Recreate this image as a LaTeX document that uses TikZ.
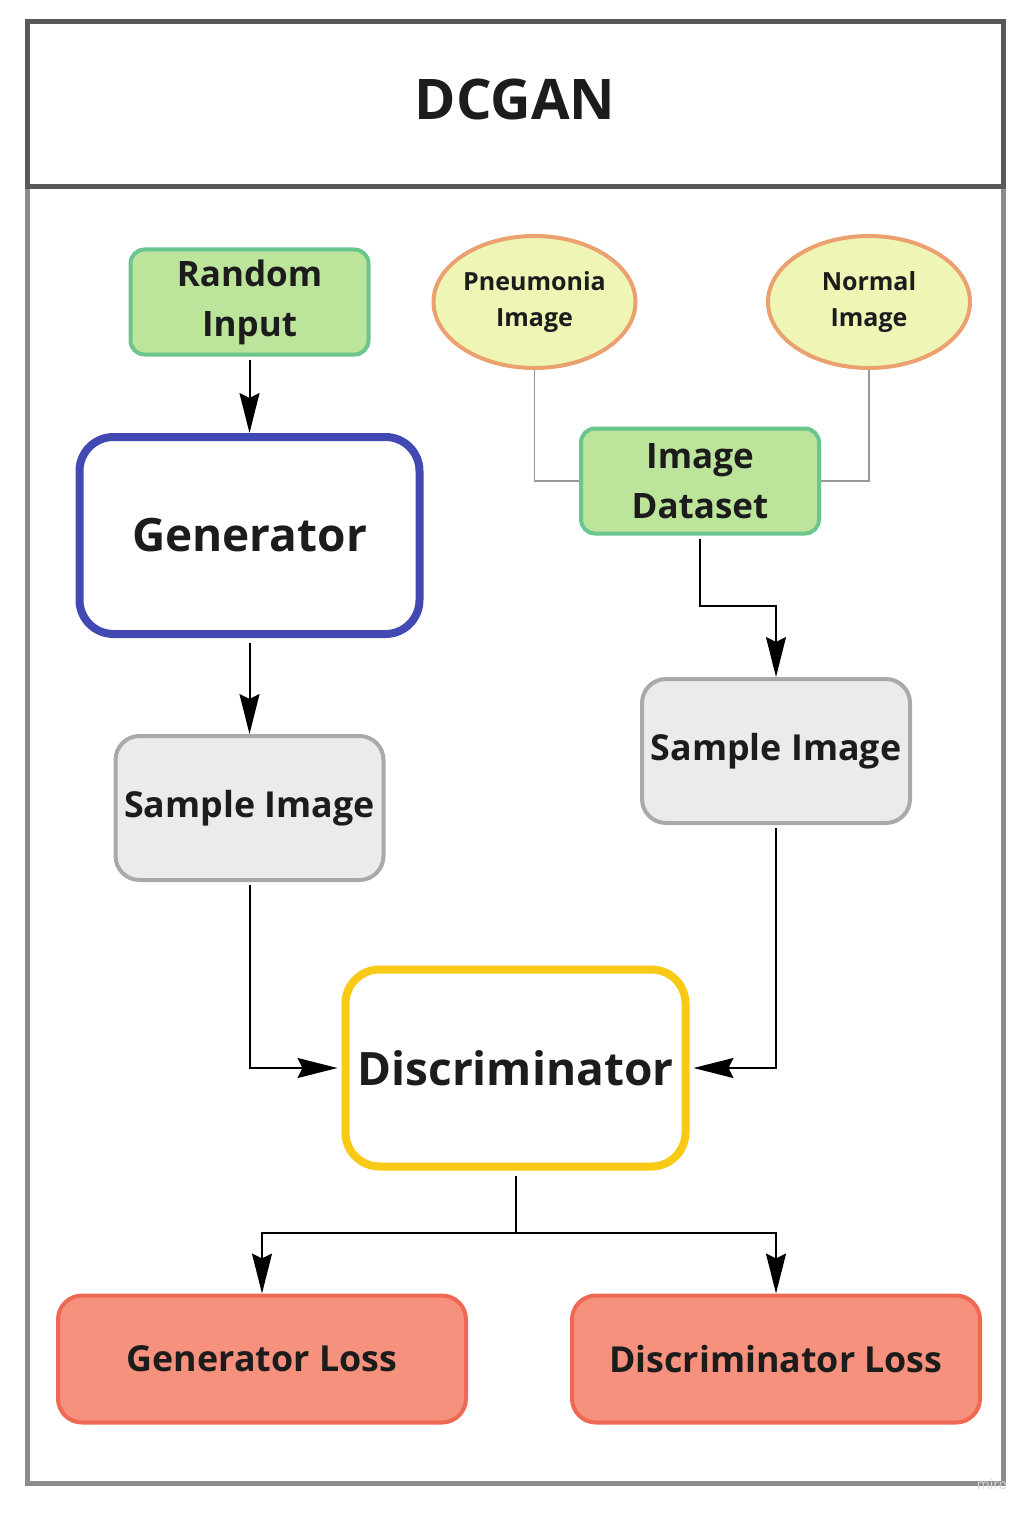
\documentclass[tikz,border=0pt]{standalone}
\usepackage{fontspec}
\setmainfont{Open Sans}
\usetikzlibrary{arrows.meta,shapes.geometric,calc}
\definecolor{gfill}{HTML}{BDE49B}
\definecolor{gline}{HTML}{6AC58E}
\definecolor{bline}{HTML}{4349B3}
\definecolor{yline}{HTML}{F8C915}
\definecolor{sfill}{HTML}{EBEBEB}
\definecolor{sline}{HTML}{A9A9A9}
\definecolor{rfill}{HTML}{F5917C}
\definecolor{rline}{HTML}{EE6853}
\definecolor{efill}{HTML}{EEF5B5}
\definecolor{eline}{HTML}{EBA16F}
\definecolor{tline}{HTML}{595959}
\definecolor{oline}{HTML}{8C8C8C}
\definecolor{txt}{HTML}{1C1C1C}
\tikzset{
  box/.style={rectangle, rounded corners=#1, inner sep=0pt, align=center, text=txt, font=\bfseries},
  greenbox/.style={box=14pt, draw=gline, fill=gfill, line width=4pt, minimum width=238pt, minimum height=105pt, font=\fontsize{35}{50}\selectfont\bfseries},
  samplebox/.style={box=24pt, draw=sline, fill=sfill, line width=4pt, minimum width=268pt, minimum height=144pt, font=\fontsize{35.8}{44}\selectfont\bfseries},
  bigbox/.style={box=34pt, fill=white, line width=8pt, minimum width=340pt, minimum height=197pt, font=\fontsize{46}{54}\selectfont\bfseries},
  lossbox/.style={box=24pt, draw=rline, fill=rfill, line width=4pt, minimum width=408pt, minimum height=127pt, font=\fontsize{35.8}{44}\selectfont\bfseries},
  oval/.style={ellipse, draw=eline, fill=efill, line width=4pt, minimum width=202pt, minimum height=132pt, inner sep=0pt, align=center, text=txt, font=\fontsize{25}{36}\selectfont\bfseries},
  arr/.style={line width=2pt, -{Stealth[length=40pt,width=20pt,inset=5pt]}},
  thin/.style={line width=1.3pt, draw=oline!90},
}
\begin{document}
\begin{tikzpicture}[x=1pt,y=-1pt]
\useasboundingbox (0,0) rectangle (1032,1514);
% frames
\draw[oline, line width=5pt] (27,187) rectangle (1003,1483);
\draw[tline, line width=5pt] (27,22) rectangle (1003,187);
\node[text=txt, font=\fontsize{56}{64}\selectfont\bfseries] (title) at (515,100) {DCGAN};
\node[text=black!15, font=\fontsize{14}{16}\selectfont] (wm) at (992,1484) {miro};
% nodes
\node[greenbox] (rand) at (249.5,302) {Random\\Input};
\node[bigbox, draw=bline] (gen) at (249.5,535.5) {Generator};
\node[samplebox] (s1) at (249.5,808) {Sample Image};
\node[oval] (pn) at (534.5,302) {Pneumonia\\Image};
\node[oval] (nm) at (869,302) {Normal\\Image};
\node[greenbox] (ds) at (700,481) {Image\\Dataset};
\node[samplebox] (s2) at (776,751) {Sample Image};
\node[bigbox, draw=yline] (disc) at (515.5,1068) {Discriminator};
\node[lossbox] (gl) at (262,1359) {Generator Loss};
\node[lossbox] (dl) at (776,1359) {Discriminator Loss};
\coordinate (split) at (515.5,1233);
\coordinate (bend) at (700,606);
% connectors
\draw[arr] ([yshift=-3pt]rand.south) -- (gen.north);
\draw[arr] ([yshift=-5pt]gen.south) -- (s1.north);
\draw[thin] (pn.south) -- (pn.south |- ds.west) -- (ds.west);
\draw[thin] (nm.south) -- (nm.south |- ds.east) -- (ds.east);
\draw[arr] ([yshift=-3pt]ds.south) -- (bend) -| (s2.north);
\draw[arr] ([yshift=-3pt]s1.south) |- ([xshift=-4pt]disc.west);
\draw[arr] ([yshift=-3pt]s2.south) |- ([xshift=4pt]disc.east);
\draw[line width=2pt] ([yshift=-5pt]disc.south) -- (split);
\draw[arr] (split) -| (gl.north);
\draw[arr] (split) -| (dl.north);
\end{tikzpicture}
\end{document}
